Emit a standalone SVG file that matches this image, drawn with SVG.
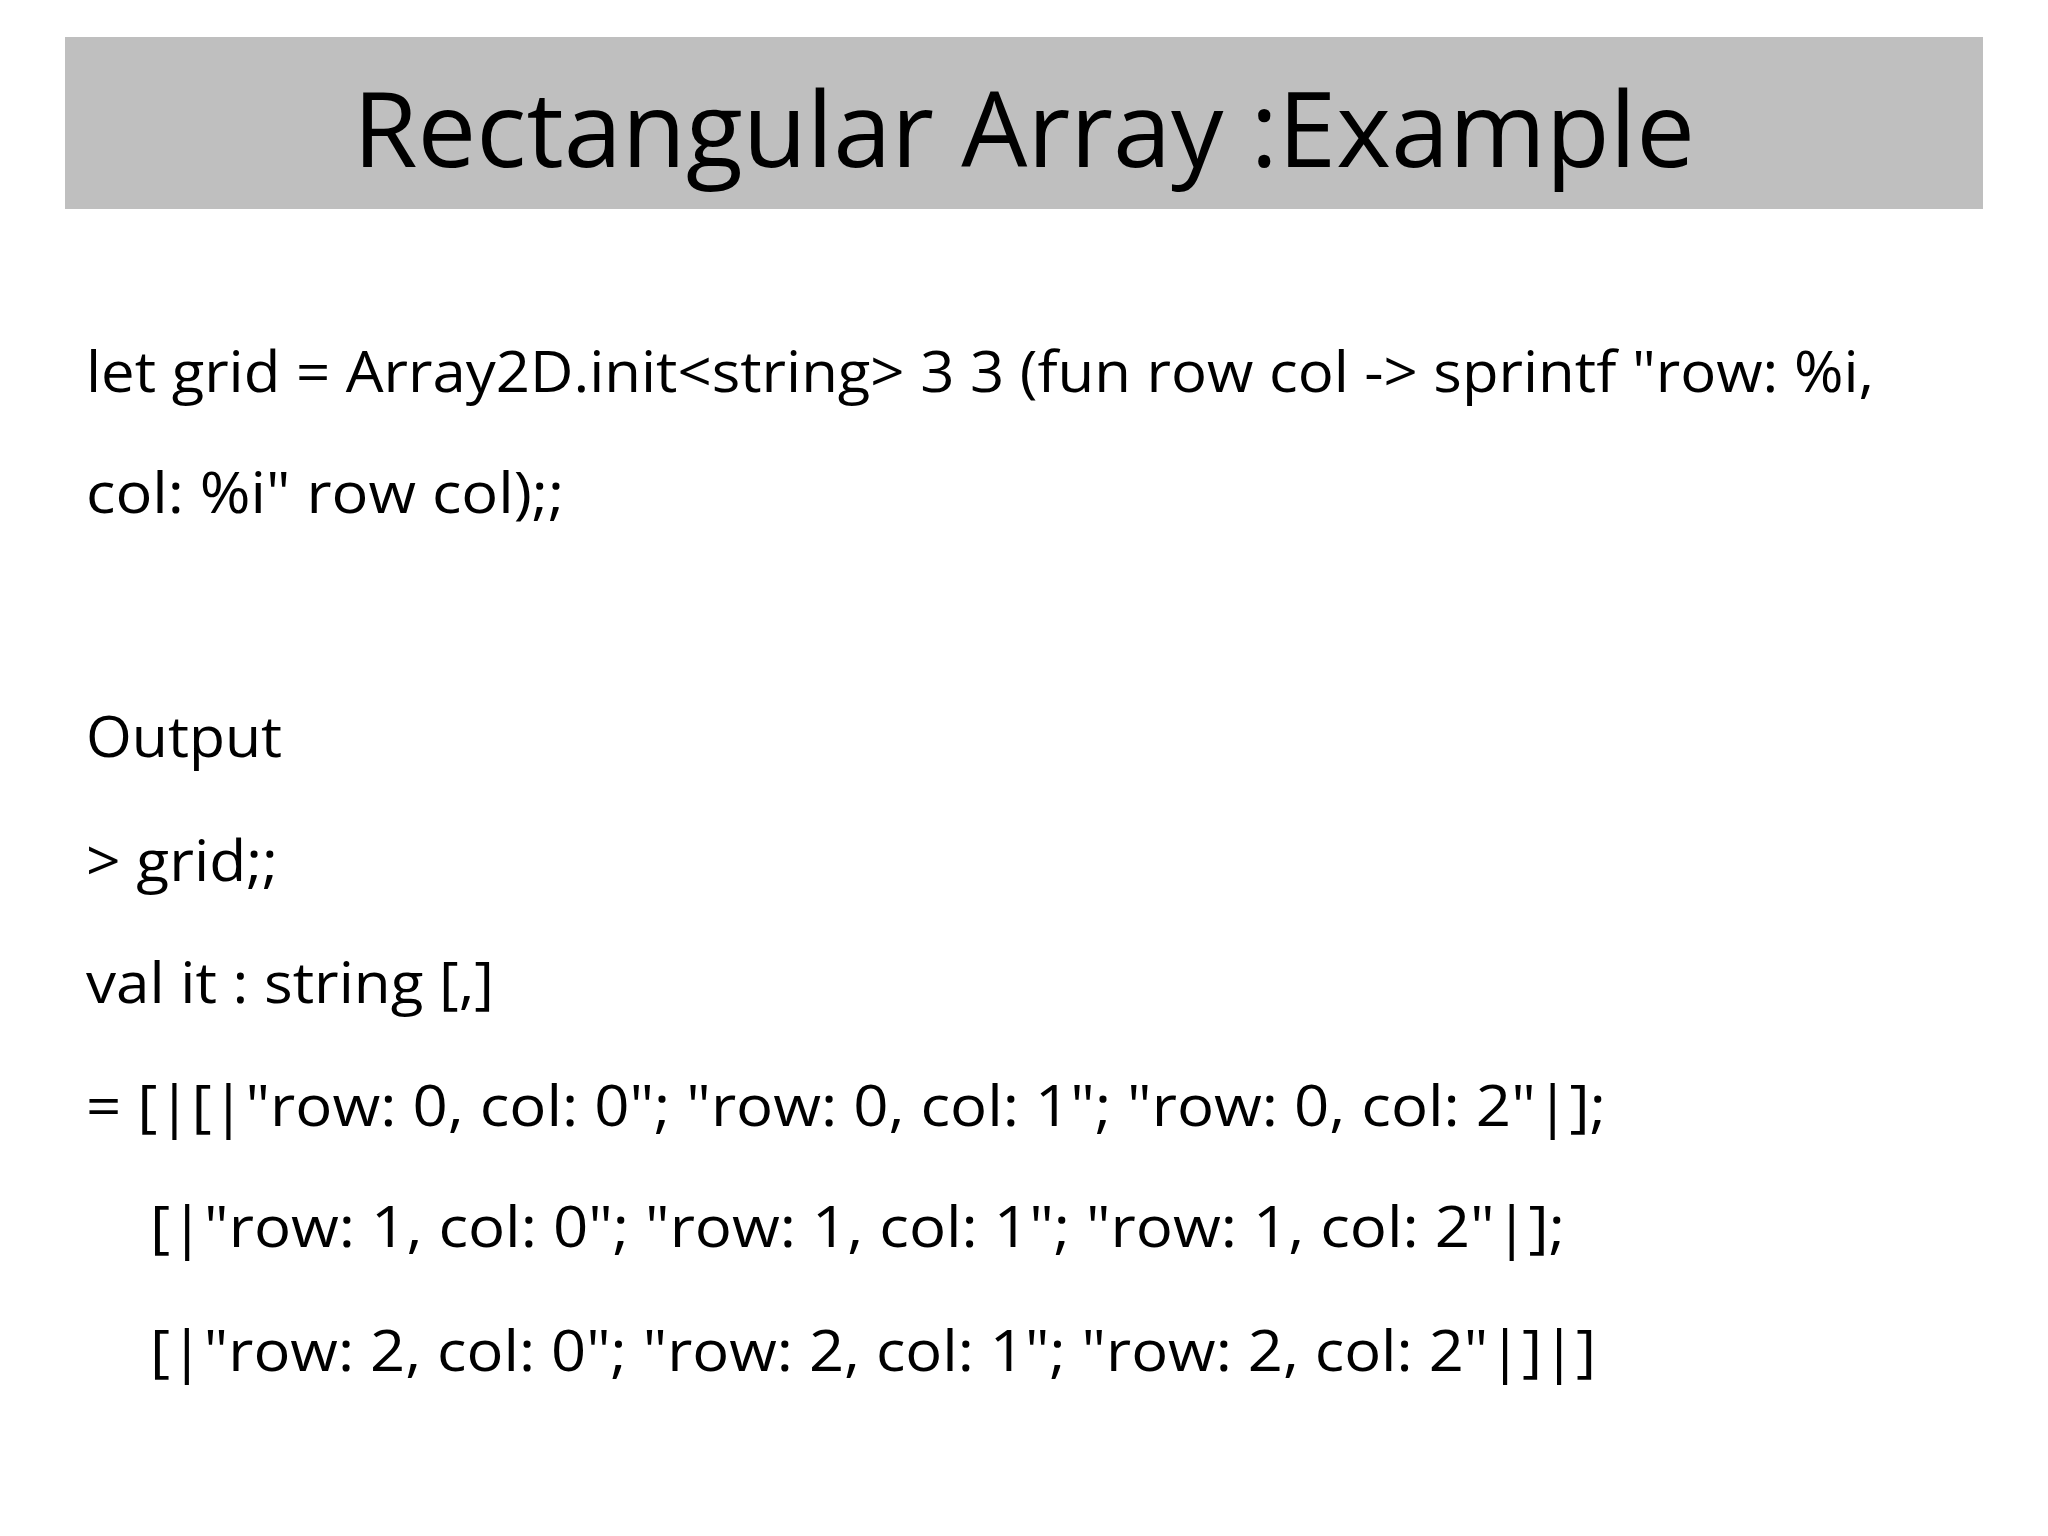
<svg xmlns="http://www.w3.org/2000/svg" width="2048" height="1536" viewBox="0 0 2048 1536">
<style>
.t{font-family:"Open Sans","Liberation Sans",sans-serif;font-size:56px;fill:#000}
.h{font-family:"Open Sans","Liberation Sans",sans-serif;font-size:104px;fill:#000}
</style>
<rect width="2048" height="1536" fill="#fff"/>
<g id="title">
<rect x="65" y="37" width="1918" height="172" fill="#bfbfbf"/>
<text class="h" x="353" y="167" textLength="1342" lengthAdjust="spacingAndGlyphs">Rectangular Array :Example</text>
</g>
<g id="body">
<text class="t" x="86" y="392" textLength="1788" lengthAdjust="spacingAndGlyphs">let grid = Array2D.init&lt;string&gt; 3 3 (fun row col -&gt; sprintf "row: %i,</text>
<text class="t" x="86" y="513" textLength="478" lengthAdjust="spacingAndGlyphs">col: %i" row col);;</text>
<text class="t" x="86" y="757" textLength="196" lengthAdjust="spacingAndGlyphs">Output</text>
<text class="t" x="86" y="881" textLength="192" lengthAdjust="spacingAndGlyphs">&gt; grid;;</text>
<text class="t" x="86" y="1003" textLength="408" lengthAdjust="spacingAndGlyphs">val it : string [,]</text>
<text class="t" x="86" y="1126" textLength="1520" lengthAdjust="spacingAndGlyphs">= [|[|"row: 0, col: 0"; "row: 0, col: 1"; "row: 0, col: 2"|];</text>
<text class="t" x="150" y="1247" textLength="1415" lengthAdjust="spacingAndGlyphs">[|"row: 1, col: 0"; "row: 1, col: 1"; "row: 1, col: 2"|];</text>
<text class="t" x="150" y="1371" textLength="1446" lengthAdjust="spacingAndGlyphs">[|"row: 2, col: 0"; "row: 2, col: 1"; "row: 2, col: 2"|]|]</text>
</g>
</svg>
